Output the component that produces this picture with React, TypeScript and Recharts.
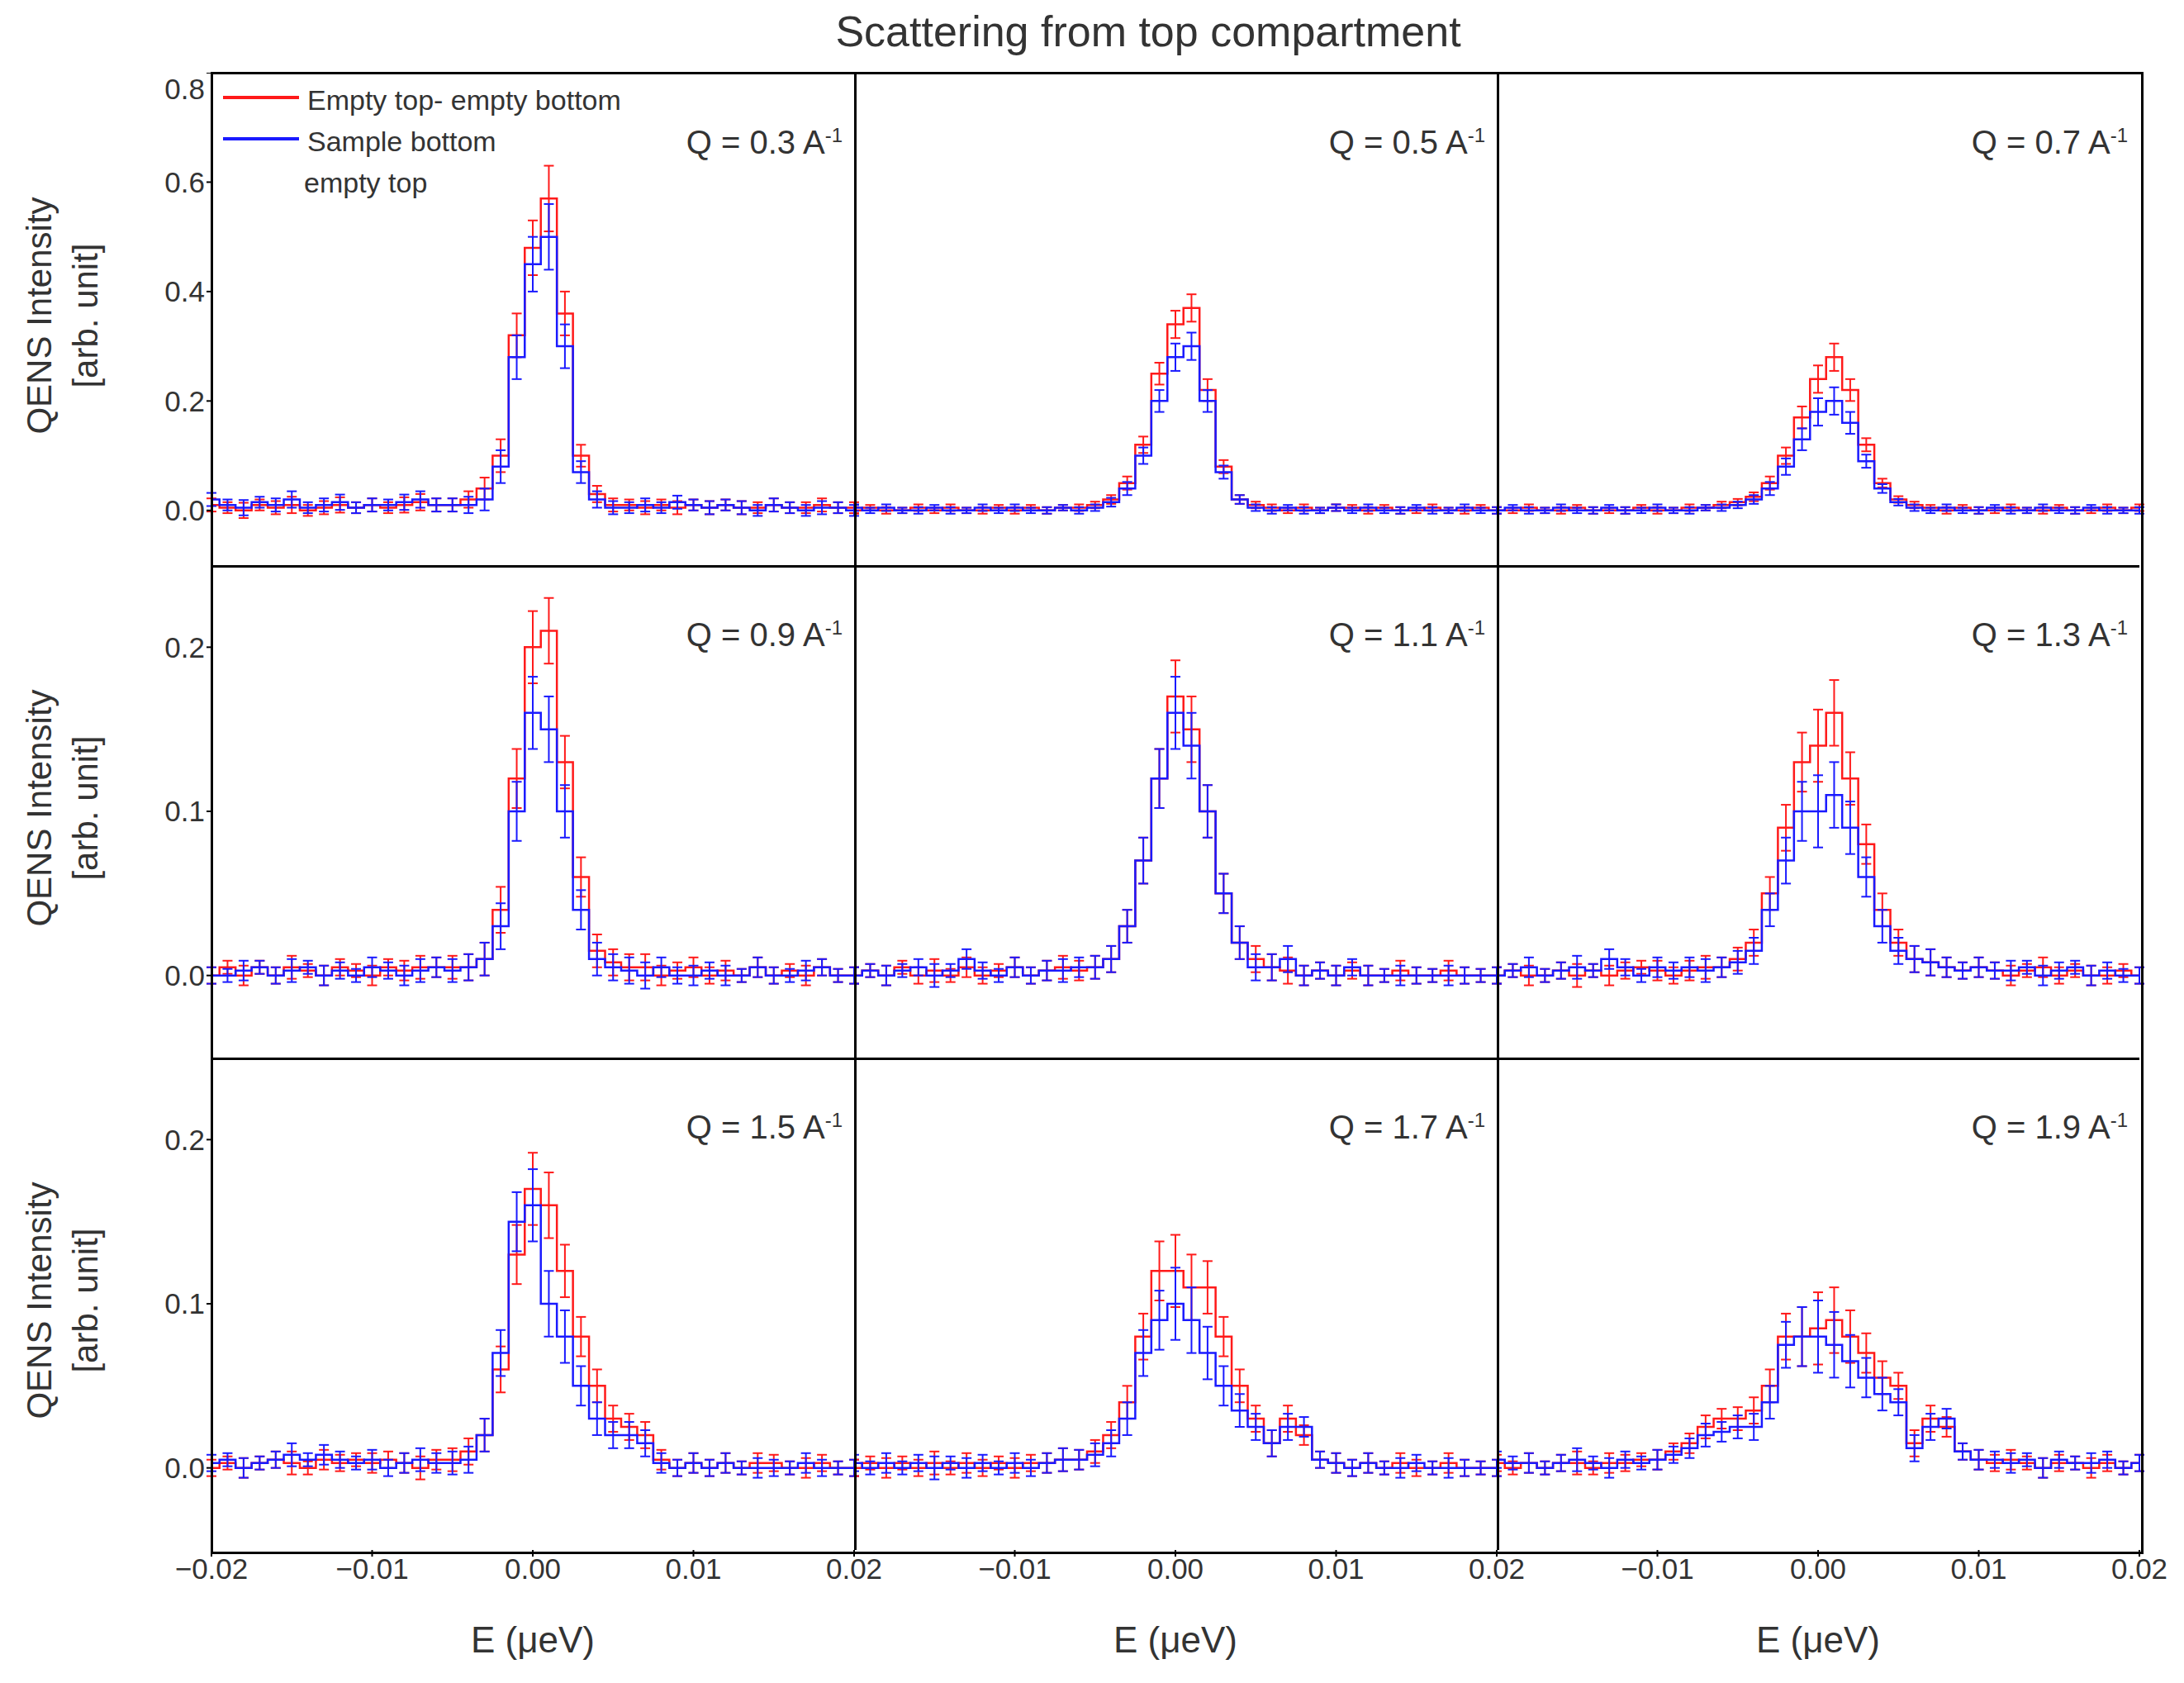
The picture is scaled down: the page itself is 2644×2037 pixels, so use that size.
import React from "react"
import { LineChart, Line, XAxis, YAxis, ErrorBar } from "recharts"

// energy grid, µeV
const E = [
  -0.02, -0.019, -0.018, -0.017, -0.016, -0.015, -0.014, -0.013, -0.012, -0.011,
  -0.01, -0.009, -0.008, -0.007, -0.006, -0.005, -0.004, -0.003, -0.002, -0.001,
  0, 0.001, 0.002, 0.003, 0.004, 0.005, 0.006, 0.007, 0.008, 0.009,
  0.01, 0.011, 0.012, 0.013, 0.014, 0.015, 0.016, 0.017, 0.018, 0.019, 0.02,
]

const qLabels = ["0.3", "0.5", "0.7", "0.9", "1.1", "1.3", "1.5", "1.7", "1.9"]

const red1 = [0.01,0.005,0,0.01,0.005,0.01,0,0.005,0.01,0.005,0.01,0.005,0.01,0.015,0.01, 0.01,0.02,0.04,0.1,0.32,0.48,0.57,0.36,0.1,0.03,0.01, 0.01,0.005,0.01,0.005,0.01,0.005,0.01,0.005,0.005,0.01,0.005,0.005,0.01,0.005,0.005]
const blue1 = [0.02,0.01,0.005,0.015,0.01,0.02,0.005,0.01,0.015,0.005,0.01,0.01,0.015,0.02,0.01, 0.01,0.01,0.02,0.08,0.28,0.45,0.5,0.3,0.07,0.02,0.005, 0.005,0.01,0.005,0.015,0.01,0.005,0.01,0.005,0,0.01,0.005,0,0.005,0.005,0]
const red2 = [0,0.005,0,0,0.005,0,0.005,0,0,0.005,0,0.005,0,0.005,0.005, 0.01,0.02,0.05,0.12,0.25,0.34,0.37,0.22,0.08,0.02,0.01, 0.005,0,0.005,0,0.005,0.005,0,0.005,0,0,0.005,0,0,0.005,0]
const blue2 = [0.005,0,0.005,0,0,0.005,0,0,0.005,0,0.005,0,0,0.005,0, 0.005,0.015,0.04,0.1,0.2,0.28,0.3,0.2,0.07,0.02,0.005, 0,0.005,0,0,0.005,0,0.005,0,0,0.005,0,0,0.005,0,0]
const red3 = [0,0,0.005,0,0,0.005,0,0,0,0.005,0,0,0.005,0.005,0.01, 0.015,0.025,0.05,0.1,0.17,0.24,0.28,0.22,0.12,0.05,0.02, 0.01,0.005,0,0.005,0,0,0.005,0,0,0.005,0,0,0.005,0,0.005]
const blue3 = [0,0.005,0,0,0.005,0,0,0.005,0,0,0.005,0,0,0.005,0.005, 0.01,0.02,0.04,0.08,0.13,0.18,0.2,0.16,0.09,0.04,0.015, 0.005,0,0.005,0,0,0.005,0,0,0.005,0,0,0.005,0,0,0]
const red4 = [0,0.005,0,0.005,0,0.005,0.003,0,0.005,0.003,0,0.005,0.003,0.005,0.005, 0.005,0.005,0.01,0.04,0.12,0.2,0.21,0.13,0.06,0.015,0.008, 0.005,0.005,0,0.003,0.005,0,0.003,0,0.005,0,0.003,0,0.005,0,0]
const blue4 = [0,0,0.003,0.005,0,0.003,0.005,0,0.003,0,0.005,0.003,0,0.003,0.005, 0.003,0.005,0.01,0.03,0.1,0.16,0.15,0.1,0.04,0.01,0.005, 0.003,0,0.005,0,0,0.003,0,0,0.005,0,0,0.003,0.005,0,0]
const red5 = [0,0.003,0,0.005,0,0.003,0,0.005,0,0.003,0.005,0,0.003,0.005,0.003, 0.005,0.01,0.03,0.07,0.12,0.17,0.15,0.1,0.05,0.02,0.01, 0.005,0.003,0,0.003,0,0.003,0,0,0.003,0,0,0.003,0,0,0]
const blue5 = [0,0.003,0,0.003,0.005,0,0.003,0.01,0.003,0,0.005,0,0.003,0.003,0.005, 0.005,0.01,0.03,0.07,0.12,0.16,0.14,0.1,0.05,0.02,0.005, 0.005,0.01,0,0.003,0,0.005,0,0,0,0,0,0,0,0,0]
const red6 = [0,0.003,0,0,0.003,0,0.003,0,0.003,0.005,0.003,0,0.003,0.005,0.005, 0.01,0.02,0.05,0.09,0.13,0.14,0.16,0.12,0.08,0.04,0.02, 0.01,0.008,0.005,0.003,0.005,0.003,0,0.003,0.005,0,0.003,0,0,0.003,0]
const blue6 = [0,0.003,0.005,0,0.003,0.005,0.003,0.01,0.005,0,0.005,0.003,0.005,0.003,0.005, 0.008,0.015,0.04,0.07,0.1,0.1,0.11,0.09,0.06,0.03,0.015, 0.01,0.008,0.005,0.003,0.005,0.003,0.003,0.005,0,0.003,0.005,0,0.003,0,0]
const red7 = [0,0.003,0,0.003,0.005,0.003,0,0.005,0.003,0.005,0.003,0.005,0.003,0,0.005, 0.005,0.01,0.02,0.06,0.13,0.17,0.16,0.12,0.08,0.05,0.03, 0.025,0.02,0.005,0,0.003,0,0.003,0,0.003,0.003,0,0,0.003,0,0]
const blue7 = [0.003,0.005,0,0.003,0.005,0.008,0.005,0.008,0.005,0.003,0.005,0,0.003,0.005,0.003, 0.003,0.005,0.02,0.07,0.15,0.16,0.1,0.08,0.05,0.03,0.02, 0.02,0.015,0.003,0,0.003,0,0.003,0,0,0,0,0.003,0,0,0]
const red8 = [0,0.003,0,0.003,0,0.003,0,0.003,0,0.003,0,0.003,0.003,0.005,0.005, 0.01,0.02,0.04,0.08,0.12,0.12,0.11,0.11,0.08,0.05,0.03, 0.015,0.03,0.02,0.005,0.003,0,0.003,0,0.003,0,0,0.003,0,0,0]
const blue8 = [0.003,0,0.003,0,0.003,0,0.003,0,0.003,0,0.003,0,0.003,0.005,0.005, 0.008,0.015,0.03,0.07,0.09,0.1,0.09,0.07,0.05,0.035,0.025, 0.015,0.025,0.025,0.005,0.003,0,0.003,0,0,0.003,0,0,0,0,0]
const red9 = [0.003,0,0.003,0,0.003,0.003,0,0.003,0.003,0.005,0.005,0.01,0.015,0.025,0.03, 0.03,0.035,0.05,0.08,0.08,0.085,0.09,0.08,0.07,0.055,0.05, 0.015,0.03,0.025,0.01,0.005,0.003,0.005,0.003,0,0.003,0.003,0,0.003,0,0.003]
const blue9 = [0.005,0.003,0.003,0,0.003,0.005,0.003,0,0.005,0.003,0.005,0.008,0.012,0.02,0.022, 0.025,0.025,0.04,0.075,0.08,0.08,0.075,0.065,0.055,0.045,0.04, 0.012,0.025,0.03,0.01,0.005,0.005,0.003,0.005,0,0.005,0.003,0.003,0.005,0,0.003]

// error bars
const errTop = [0.012,0.01,0.014,0.01,0.012,0.015,0.01,0.012,0.014,0.01,0.012,0.01,0.014,0.015,0.012, 0.012,0.015,0.02,0.03,0.04,0.05,0.06,0.04,0.02,0.015,0.012, 0.01,0.012,0.01,0.012,0.01,0.012,0.01,0.012,0.01,0.012,0.01,0.01,0.012,0.01,0.01]
const errMid = [0.006,0.005,0.006,0.005,0.006,0.005,0.006,0.005,0.006,0.005,0.006,0.005,0.006,0.005,0.006, 0.006,0.008,0.012,0.015,0.02,0.025,0.025,0.02,0.012,0.008,0.006, 0.006,0.005,0.006,0.005,0.006,0.005,0.006,0.005,0.006,0.005,0.006,0.005,0.006,0.005,0.006]
const errLow = [0.005,0.004,0.006,0.004,0.005,0.007,0.004,0.006,0.005,0.004,0.006,0.005,0.006,0.007,0.006, 0.007,0.008,0.01,0.014,0.018,0.022,0.02,0.016,0.012,0.01,0.008, 0.008,0.008,0.006,0.005,0.006,0.005,0.006,0.004,0.006,0.005,0.004,0.006,0.005,0.004,0.005]

const redSets = [red1, red2, red3, red4, red5, red6, red7, red8, red9]
const blueSets = [blue1, blue2, blue3, blue4, blue5, blue6, blue7, blue8, blue9]
const errSets = [errTop, errMid, errMid, errLow, errLow, errLow, errLow, errLow, errLow]

const topTicks = [0, 0.2, 0.4, 0.6, 0.8]
const lowTicks = [0, 0.1, 0.2]
const xTicksFirst = [-0.02, -0.01, 0, 0.01, 0.02]
const xTicksRest = [-0.01, 0, 0.01, 0.02]

const FONT = "'Liberation Sans', Arial, sans-serif"
const LEFT = 256
const TOP = 88
const COLW = 778
const ROWH = 596
const YW = 100
const XH = 70
const PADR = 50
const INK = "#333"

const fmtX = (v: number) => (v === 0 ? "0.00" : v.toFixed(2).replace("-", "\u2212"))

function Panel({ idx }: { idx: number }) {
  const row = Math.floor(idx / 3)
  const col = idx % 3
  const showY = col === 0
  const showX = row === 2
  const domain = row === 0 ? [-0.1, 0.8] : [-0.05, 0.25]
  const data = E.map((e, i) => ({
    e,
    red: redSets[idx][i],
    blue: blueSets[idx][i],
    err: errSets[idx][i],
  }))
  const w = COLW + (showY ? YW : 0) + PADR
  const h = ROWH + (showX ? XH : 0)
  const tickStyle = { fontSize: 35, fill: INK, fontFamily: FONT }
  return (
    <div style={{ position: "absolute", left: LEFT + col * COLW - (showY ? YW : 0), top: TOP + row * ROWH }}>
      <LineChart width={w} height={h} data={data} margin={{ top: 0, right: PADR, bottom: 0, left: 0 }}>
        <XAxis
          dataKey="e"
          type="number"
          domain={[-0.02, 0.02]}
          ticks={col === 0 ? xTicksFirst : xTicksRest}
          tickFormatter={fmtX}
          hide={!showX}
          height={XH}
          axisLine={false}
          tick={tickStyle}
          tickLine={{ stroke: "#000", strokeWidth: 2 }}
          tickSize={8}
          allowDataOverflow
        />
        <YAxis
          type="number"
          domain={domain}
          ticks={row === 0 ? topTicks : lowTicks}
          tickFormatter={(v: number) => v.toFixed(1)}
          hide={!showY}
          width={YW}
          axisLine={false}
          tick={tickStyle}
          tickLine={{ stroke: "#000", strokeWidth: 2 }}
          tickSize={6}
          allowDataOverflow
        />
        <Line type="step" dataKey="red" stroke="#ff1a1a" strokeWidth={2.5} dot={false} isAnimationActive={false}>
          <ErrorBar dataKey="err" stroke="#ff1a1a" width={6} strokeWidth={2} isAnimationActive={false} />
        </Line>
        <Line type="step" dataKey="blue" stroke="#1a1aff" strokeWidth={2.5} dot={false} isAnimationActive={false}>
          <ErrorBar dataKey="err" stroke="#1a1aff" width={6} strokeWidth={2} isAnimationActive={false} />
        </Line>
      </LineChart>
      <div
        style={{
          position: "absolute",
          right: 14 + PADR,
          top: 62,
          fontSize: 40,
          fontFamily: FONT,
          color: INK,
          whiteSpace: "nowrap",
        }}
      >
        Q = {qLabels[idx]} A<sup style={{ fontSize: 24 }}>-1</sup>
      </div>
    </div>
  )
}

const line = (s: React.CSSProperties) => <div style={{ position: "absolute", background: "#000", ...s }} />

export default function App() {
  const W = COLW * 3
  const H = ROWH * 3
  return (
    <div style={{ position: "relative", width: 2644, height: 2037, margin: -8, background: "#fff", fontFamily: FONT }}>
      <div style={{ position: "absolute", left: 0, width: 2780, top: 8, textAlign: "center", fontSize: 52, color: INK }}>
        Scattering from top compartment
      </div>
      {qLabels.map((_, i) => (
        <Panel key={i} idx={i} />
      ))}
      {/* frame */}
      <div style={{ position: "absolute", left: LEFT - 1, top: TOP - 1, width: W, height: H, border: "3px solid #000" }} />
      {line({ left: LEFT + COLW, top: TOP, width: 3, height: H })}
      {line({ left: LEFT + 2 * COLW, top: TOP, width: 3, height: H })}
      {line({ left: LEFT, top: TOP + ROWH, width: W, height: 3 })}
      {line({ left: LEFT, top: TOP + 2 * ROWH, width: W, height: 3 })}
      {/* y labels */}
      {[0, 1, 2].map((r) => (
        <div
          key={r}
          style={{
            position: "absolute",
            left: 76 - 300,
            top: TOP + r * ROWH + ROWH / 2 - 60,
            width: 600,
            textAlign: "center",
            transform: "rotate(-90deg)",
            fontSize: 42,
            lineHeight: "56px",
            color: INK,
          }}
        >
          QENS Intensity
          <br />
          [arb. unit]
        </div>
      ))}
      {/* x labels */}
      {[0, 1, 2].map((c) => (
        <div
          key={c}
          style={{
            position: "absolute",
            left: LEFT + c * COLW,
            width: COLW,
            top: 1960,
            textAlign: "center",
            fontSize: 44,
            color: INK,
          }}
        >
          E (μeV)
        </div>
      ))}
      {/* legend */}
      {line({ left: 270, top: 116, width: 92, height: 4, background: "#ff1a1a" })}
      {line({ left: 270, top: 166, width: 92, height: 4, background: "#1a1aff" })}
      <div style={{ position: "absolute", left: 372, top: 96, fontSize: 34, lineHeight: "50px", color: INK }}>
        Empty top- empty bottom
        <br />
        Sample bottom
        <br />
        <span style={{ marginLeft: -4 }}>empty top</span>
      </div>
    </div>
  )
}
